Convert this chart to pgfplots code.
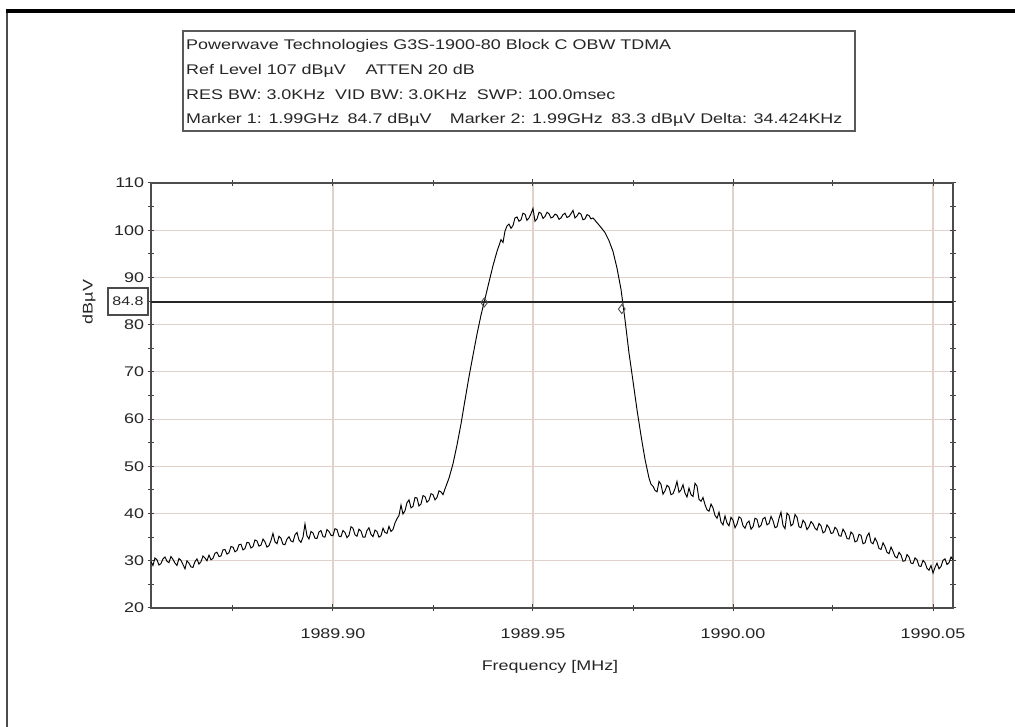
\documentclass[border=0pt]{standalone}
\usepackage{fontspec}
\setmainfont{Liberation Sans}[FakeStretch=1.28]
\usepackage{pgfplots}
\pgfplotsset{compat=1.18}
\definecolor{gridc}{RGB}{224,210,200}
\begin{document}
\begin{tikzpicture}[x=1pt,y=1pt]
\useasboundingbox (0,0) rectangle (1015,727);
\fill[white] (0,0) rectangle (1015,727);
% outer frame
\draw[black!70, line width=2.5pt] (7,0) -- (7,716);
\draw[black, line width=4pt] (5.75,716) -- (1015,716);
% header box
\draw[black!65, line width=1.3pt] (183,696) rectangle (855,596);
\begin{scope}[every node/.style={anchor=base west, inner sep=0pt, font=\fontsize{14}{16}\selectfont, text=black!85}]
\node at (186,677) {Powerwave Technologies G3S-1900-80 Block C OBW TDMA};
\node at (186,652) {Ref Level 107 dBµV\hspace{1.4em}ATTEN 20 dB};
\node at (186,627) {RES BW: 3.0KHz\hspace{0.7em}VID BW: 3.0KHz\hspace{0.7em}SWP: 100.0msec};
\node at (186,603) {Marker 1: 1.99GHz\hspace{0.6em}84.7 dBµV\hspace{1.3em}Marker 2: 1.99GHz\hspace{0.6em}83.3 dBµV Delta: 34.424KHz};
\end{scope}
% axis labels
\node[rotate=90, font=\fontsize{14}{16}\selectfont, text=black!85] at (89,425) {dBµV};
\node[font=\fontsize{14}{16}\selectfont, text=black!85] at (550,60) {Frequency [MHz]};
\begin{axis}[
  at={(151pt,119pt)}, anchor=south west,
  width=802pt, height=425pt, scale only axis,
  xmin=1989.8545, xmax=1990.055, ymin=20, ymax=110,
  xtick={1989.90,1989.95,1990.00,1990.05},
  minor xtick={1989.875,1989.925,1989.975,1990.025},
  ytick={20,30,40,50,60,70,80,90,100,110},
  minor ytick={25,35,45,55,65,75,85,95,105},
  scaled x ticks=false,
  /pgf/number format/assume math mode=true,
  ticklabel style={font=\fontsize{14}{16}\selectfont, text=black!85},
  xticklabel style={yshift=-14pt, /pgf/number format/fixed, /pgf/number format/fixed zerofill, /pgf/number format/precision=2, /pgf/number format/1000 sep={}},
  xmajorgrids, ymajorgrids,
  major grid style={gridc, line width=1.1pt},
  tick align=center,
  major tick length=7pt, minor tick length=6pt,
  every tick/.style={black!75, line width=1pt},
  axis line style={black!70, line width=1.3pt},
  clip=true,
]
\addplot[black, line width=0.95pt] coordinates {
(1989.8545,29.8)
(1989.855,29.0)(1989.8555,30.6)(1989.856,30.2)(1989.8565,29.1)(1989.857,29.4)(1989.8575,30.4)
(1989.858,30.8)(1989.8585,29.9)(1989.859,29.6)(1989.8595,30.9)(1989.860,30.3)(1989.8605,29.5)
(1989.861,29.0)(1989.8615,30.5)(1989.862,30.1)(1989.8625,29.2)(1989.863,28.3)(1989.8635,30.0)
(1989.864,29.5)(1989.8645,28.7)(1989.865,28.6)(1989.8655,29.8)(1989.866,30.4)(1989.8665,29.3)
(1989.867,29.8)(1989.8675,31.0)(1989.868,30.6)(1989.8685,30.0)(1989.869,31.2)(1989.8695,30.2)
(1989.870,30.5)(1989.8705,31.6)(1989.871,31.8)(1989.8715,30.9)(1989.872,31.0)(1989.8725,32.3)
(1989.873,32.4)(1989.8735,31.4)(1989.874,31.7)(1989.8745,33.0)(1989.875,32.9)(1989.8755,31.9)
(1989.876,32.2)(1989.8765,33.4)(1989.877,33.5)(1989.8775,32.3)(1989.878,32.6)(1989.8785,33.9)
(1989.879,33.8)(1989.8795,32.7)(1989.880,33.0)(1989.8805,34.4)(1989.881,34.2)(1989.8815,33.1)
(1989.882,33.3)(1989.8825,34.6)(1989.883,34.0)(1989.8835,32.9)(1989.884,33.2)(1989.8845,34.3)
(1989.885,35.8)(1989.8855,34.0)(1989.886,33.6)(1989.8865,35.2)(1989.887,34.8)(1989.8875,33.5)
(1989.888,33.4)(1989.8885,34.6)(1989.889,35.1)(1989.8895,34.2)(1989.890,34.0)(1989.8905,35.5)
(1989.891,36.0)(1989.8915,34.4)(1989.892,33.9)(1989.8925,35.0)(1989.893,37.8)(1989.8935,35.3)
(1989.894,34.6)(1989.8945,36.2)(1989.895,35.9)(1989.8955,34.8)(1989.896,34.7)(1989.8965,36.1)
(1989.897,36.4)(1989.8975,35.1)(1989.898,35.0)(1989.8985,36.6)(1989.899,36.2)(1989.8995,35.4)
(1989.900,35.3)(1989.9005,36.8)(1989.901,36.6)(1989.9015,35.2)(1989.902,35.1)(1989.9025,36.4)
(1989.903,36.0)(1989.9035,34.9)(1989.904,35.4)(1989.9045,37.2)(1989.905,36.9)(1989.9055,35.5)
(1989.906,35.2)(1989.9065,36.7)(1989.907,36.3)(1989.9075,35.0)(1989.908,35.0)(1989.9085,36.4)
(1989.909,37.0)(1989.9095,35.6)(1989.910,35.1)(1989.9105,36.5)(1989.911,36.2)(1989.9115,35.0)
(1989.912,35.3)(1989.9125,36.9)(1989.913,36.0)(1989.9135,35.8)(1989.914,37.3)(1989.9145,36.2)
(1989.915,36.6)(1989.9155,38.0)(1989.916,38.9)(1989.9165,39.6)(1989.917,41.8)(1989.9175,39.9)
(1989.918,40.6)(1989.9185,42.3)(1989.919,42.9)(1989.9195,41.2)(1989.920,41.5)(1989.9205,43.4)
(1989.921,43.3)(1989.9215,41.6)(1989.922,42.0)(1989.9225,43.8)(1989.923,43.6)(1989.9235,42.4)
(1989.924,42.8)(1989.9245,44.2)(1989.925,44.0)(1989.9255,42.9)(1989.926,43.4)(1989.9265,44.8)
(1989.927,44.6)(1989.9275,44.0)(1989.928,45.2)(1989.929,47.5)(1989.930,50.5)(1989.931,54.5)
(1989.932,59.0)(1989.933,64.0)(1989.934,69.0)(1989.935,73.5)(1989.936,78.0)(1989.937,82.0)
(1989.938,85.5)(1989.939,89.0)(1989.940,92.5)(1989.941,95.5)(1989.942,98.0)(1989.9425,97.4)
(1989.943,99.8)(1989.9435,100.9)(1989.944,101.3)(1989.9445,100.4)(1989.945,101.0)(1989.9455,102.6)
(1989.946,102.8)(1989.9465,101.9)(1989.947,102.2)(1989.9475,103.6)(1989.948,103.4)(1989.9485,102.1)
(1989.949,102.6)(1989.9495,103.5)(1989.950,104.6)(1989.9505,101.9)(1989.951,102.4)(1989.9515,103.8)
(1989.952,103.6)(1989.9525,102.5)(1989.953,102.9)(1989.9535,103.8)(1989.954,103.5)(1989.9545,102.6)
(1989.955,102.8)(1989.9555,103.4)(1989.956,103.2)(1989.9565,102.3)(1989.957,102.6)(1989.9575,103.3)
(1989.958,103.6)(1989.9585,102.7)(1989.959,102.9)(1989.9595,103.5)(1989.960,104.2)(1989.9605,102.6)
(1989.961,103.0)(1989.9615,103.7)(1989.962,103.4)(1989.9625,102.2)(1989.963,102.4)(1989.9635,103.3)
(1989.964,103.1)(1989.9645,102.4)(1989.965,102.6)(1989.966,101.6)(1989.967,100.6)(1989.968,99.5)
(1989.969,97.8)(1989.970,95.5)(1989.971,92.0)(1989.972,87.5)(1989.973,81.0)(1989.974,74.0)
(1989.975,68.0)(1989.976,62.0)(1989.977,56.5)(1989.978,51.5)(1989.979,47.5)(1989.9795,46.2)
(1989.980,45.8)(1989.9805,44.9)(1989.981,44.6)(1989.9815,46.8)(1989.982,46.2)(1989.9825,44.1)
(1989.983,44.8)(1989.9835,46.0)(1989.984,45.6)(1989.9845,44.0)(1989.985,44.2)(1989.9855,45.3)
(1989.986,46.8)(1989.9865,44.5)(1989.987,45.0)(1989.9875,46.1)(1989.988,44.3)(1989.9885,43.5)
(1989.989,45.4)(1989.9895,44.0)(1989.990,43.6)(1989.9905,46.4)(1989.991,45.8)(1989.9915,43.0)
(1989.992,42.6)(1989.9925,43.4)(1989.993,41.9)(1989.9935,40.8)(1989.994,40.5)(1989.9945,42.0)
(1989.995,41.2)(1989.9955,39.6)(1989.996,39.0)(1989.9965,40.3)(1989.997,38.2)(1989.9975,37.6)
(1989.998,39.5)(1989.9985,38.0)(1989.999,37.4)(1989.9995,39.2)(1990.000,38.6)(1990.0005,37.0)
(1990.001,37.8)(1990.0015,39.3)(1990.002,39.0)(1990.0025,37.4)(1990.003,36.9)(1990.0035,38.0)
(1990.004,38.4)(1990.0045,36.7)(1990.005,37.2)(1990.0055,39.0)(1990.006,38.8)(1990.0065,37.1)
(1990.007,37.5)(1990.0075,38.9)(1990.008,39.2)(1990.0085,37.6)(1990.009,37.9)(1990.0095,39.4)
(1990.010,38.5)(1990.0105,37.0)(1990.011,37.2)(1990.0115,39.0)(1990.012,40.3)(1990.0125,37.5)
(1990.013,36.8)(1990.0135,40.1)(1990.014,39.6)(1990.0145,37.4)(1990.015,37.8)(1990.0155,39.8)
(1990.016,39.2)(1990.0165,37.2)(1990.017,37.0)(1990.0175,38.6)(1990.018,38.0)(1990.0185,36.6)
(1990.019,37.2)(1990.0195,38.3)(1990.020,37.8)(1990.0205,36.9)(1990.021,36.5)(1990.0215,37.9)
(1990.022,37.4)(1990.0225,35.9)(1990.023,36.2)(1990.0235,37.6)(1990.024,37.0)(1990.0245,35.8)
(1990.025,35.9)(1990.0255,37.1)(1990.026,36.6)(1990.0265,35.3)(1990.027,35.2)(1990.0275,36.7)
(1990.028,36.0)(1990.0285,34.7)(1990.029,34.6)(1990.0295,36.1)(1990.030,35.6)(1990.0305,34.0)
(1990.031,34.2)(1990.0315,35.6)(1990.032,35.4)(1990.0325,33.6)(1990.033,33.8)(1990.0335,35.2)
(1990.034,35.9)(1990.0345,33.9)(1990.035,33.6)(1990.0355,34.8)(1990.036,34.0)(1990.0365,32.6)
(1990.037,32.4)(1990.0375,33.8)(1990.038,33.0)(1990.0385,31.8)(1990.039,31.5)(1990.0395,32.9)
(1990.040,32.0)(1990.0405,30.9)(1990.041,30.6)(1990.0415,31.8)(1990.042,31.2)(1990.0425,29.9)
(1990.043,30.0)(1990.0435,31.3)(1990.044,30.8)(1990.0445,29.5)(1990.045,29.4)(1990.0455,30.6)
(1990.046,30.2)(1990.0465,28.9)(1990.047,28.8)(1990.0475,30.1)(1990.048,29.6)(1990.0485,28.4)
(1990.049,28.0)(1990.0495,29.0)(1990.050,27.4)(1990.0505,28.6)(1990.051,29.5)(1990.0515,28.3)
(1990.052,28.8)(1990.0525,30.1)(1990.053,30.4)(1990.0535,29.2)(1990.054,29.6)(1990.0545,30.8)
(1990.055,30.2)
};
% reference level line
\addplot[black!85, line width=2.6pt] coordinates {(1989.8545,84.8)(1990.055,84.8)};
% markers
\addplot[only marks, mark=diamond, mark size=4.5pt, mark options={black!70, line width=0.9pt, fill=none}] coordinates {(1989.9378,84.7)(1989.9722,83.3)};
\end{axis}
% reference level box
\node[draw=black!70, line width=1.2pt, fill=white, minimum width=40pt, minimum height=27pt, inner sep=0pt, font=\fontsize{12.5}{15}\selectfont, text=black!85] at (128,425.5) {84.8};
\end{tikzpicture}
\end{document}
